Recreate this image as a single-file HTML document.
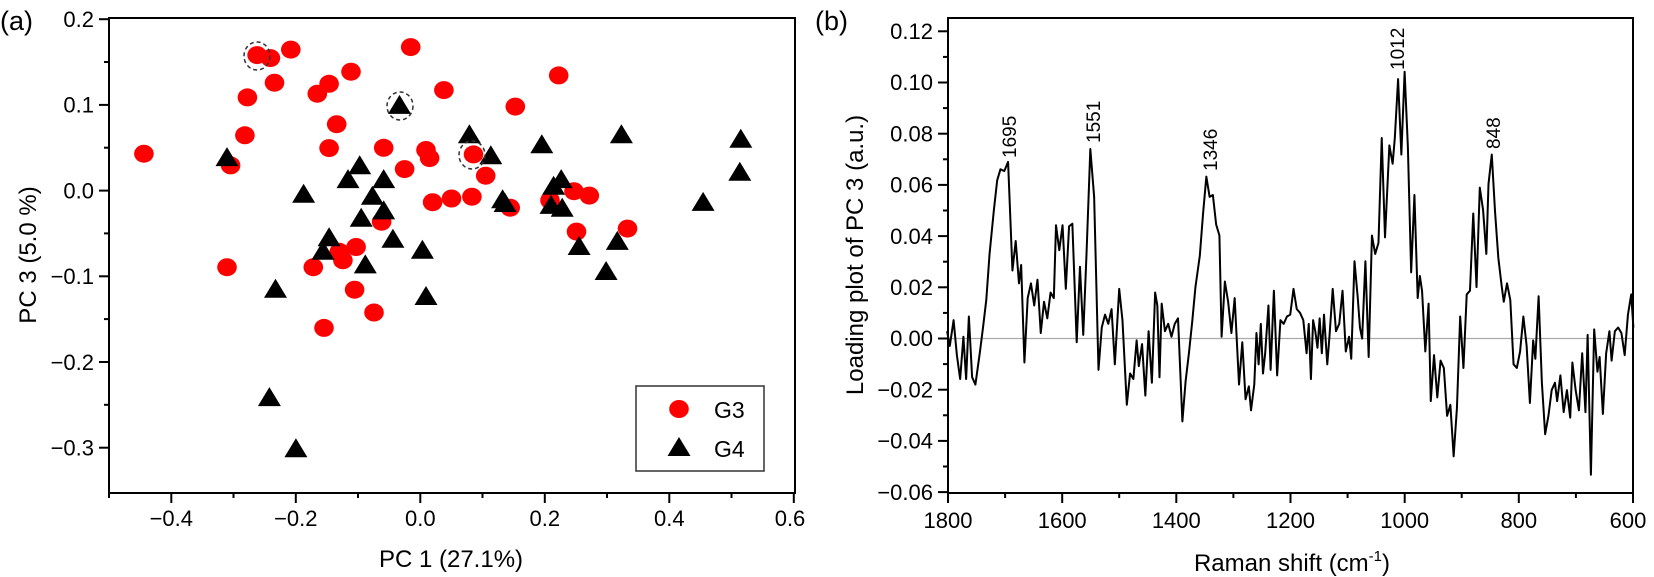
<!DOCTYPE html>
<html><head><meta charset="utf-8"><style>
html,body{margin:0;padding:0;background:#fff;}
svg{display:block;font-family:"Liberation Sans",sans-serif;}
</style></head><body>
<svg width="1654" height="577" viewBox="0 0 1654 577" xmlns="http://www.w3.org/2000/svg">
<defs>
<g id="tri"><polygon points="0,-11 11.5,8 -11.5,8" fill="#000"/></g>
<g id="cir"><ellipse cx="0" cy="0" rx="9.8" ry="9" fill="#f00"/></g>
</defs>

<!-- ===== Panel (a) ===== -->
<text x="0" y="30" font-size="27">(a)</text>
<rect x="109" y="18" width="686" height="475" fill="none" stroke="#000" stroke-width="2"/>
<g stroke="#000" stroke-width="2">
<line x1="99" y1="19.2" x2="109" y2="19.2"/>
<line x1="99" y1="104.9" x2="109" y2="104.9"/>
<line x1="99" y1="190.6" x2="109" y2="190.6"/>
<line x1="99" y1="276.3" x2="109" y2="276.3"/>
<line x1="99" y1="362" x2="109" y2="362"/>
<line x1="99" y1="447.7" x2="109" y2="447.7"/>
<line x1="104" y1="62" x2="109" y2="62"/>
<line x1="104" y1="147.7" x2="109" y2="147.7"/>
<line x1="104" y1="233.4" x2="109" y2="233.4"/>
<line x1="104" y1="319.1" x2="109" y2="319.1"/>
<line x1="104" y1="404.8" x2="109" y2="404.8"/>
<line x1="171.3" y1="493" x2="171.3" y2="503"/>
<line x1="295.8" y1="493" x2="295.8" y2="503"/>
<line x1="420.3" y1="493" x2="420.3" y2="503"/>
<line x1="544.8" y1="493" x2="544.8" y2="503"/>
<line x1="669.3" y1="493" x2="669.3" y2="503"/>
<line x1="793.8" y1="493" x2="793.8" y2="503"/>
<line x1="109" y1="493" x2="109" y2="498"/>
<line x1="233.5" y1="493" x2="233.5" y2="498"/>
<line x1="358" y1="493" x2="358" y2="498"/>
<line x1="482.5" y1="493" x2="482.5" y2="498"/>
<line x1="607" y1="493" x2="607" y2="498"/>
<line x1="731.5" y1="493" x2="731.5" y2="498"/>
</g>
<g font-size="22" text-anchor="end">
<text x="94" y="27">0.2</text>
<text x="94" y="112.7">0.1</text>
<text x="94" y="198.4">0.0</text>
<text x="94" y="284.1">−0.1</text>
<text x="94" y="369.8">−0.2</text>
<text x="94" y="455.5">−0.3</text>
</g>
<g font-size="22" text-anchor="middle">
<text x="171.3" y="526">−0.4</text>
<text x="295.8" y="526">−0.2</text>
<text x="420.3" y="526">0.0</text>
<text x="544.8" y="526">0.2</text>
<text x="669.3" y="526">0.4</text>
<text x="790" y="526">0.6</text>
</g>
<text x="451" y="567" font-size="24" text-anchor="middle">PC 1 (27.1%)</text>
<text transform="translate(36,255) rotate(-90)" font-size="24" text-anchor="middle">PC 3 (5.0 %)</text>

<g>
<use href="#cir" x="143.9" y="153.7"/><use href="#cir" x="230.6" y="165.4"/>
<use href="#cir" x="244.9" y="135.3"/><use href="#cir" x="247.4" y="97.4"/>
<use href="#cir" x="257.1" y="55.1"/><use href="#cir" x="270.4" y="58.1"/>
<use href="#cir" x="274.5" y="82.7"/><use href="#cir" x="290.8" y="49.6"/>
<use href="#cir" x="317.3" y="93.7"/><use href="#cir" x="329.1" y="83.8"/>
<use href="#cir" x="351.0" y="71.7"/><use href="#cir" x="336.7" y="124.2"/>
<use href="#cir" x="329.1" y="148.1"/><use href="#cir" x="383.7" y="147.8"/>
<use href="#cir" x="410.7" y="47.1"/><use href="#cir" x="443.9" y="90.1"/>
<use href="#cir" x="515.3" y="106.6"/><use href="#cir" x="426.0" y="150.0"/>
<use href="#cir" x="429.6" y="158.1"/><use href="#cir" x="404.6" y="169.1"/>
<use href="#cir" x="473.5" y="154.4"/><use href="#cir" x="485.7" y="175.7"/>
<use href="#cir" x="432.6" y="202.2"/><use href="#cir" x="451.5" y="198.5"/>
<use href="#cir" x="471.9" y="196.7"/><use href="#cir" x="510.2" y="207.7"/>
<use href="#cir" x="550.0" y="200.3"/><use href="#cir" x="558.7" y="75.4"/>
<use href="#cir" x="574.0" y="191.2"/><use href="#cir" x="589.3" y="195.6"/>
<use href="#cir" x="576.5" y="231.6"/><use href="#cir" x="627.5" y="228.6"/>
<use href="#cir" x="227.0" y="267.2"/><use href="#cir" x="313.3" y="267.2"/>
<use href="#cir" x="339.3" y="251.8"/><use href="#cir" x="342.9" y="260.3"/>
<use href="#cir" x="356.1" y="247.0"/><use href="#cir" x="354.6" y="289.7"/>
<use href="#cir" x="374.0" y="312.5"/><use href="#cir" x="324.0" y="327.9"/>
<use href="#cir" x="381.6" y="221.7"/>
</g>
<g>
<use href="#tri" x="227.0" y="158.1"/><use href="#tri" x="303.6" y="194.8"/>
<use href="#tri" x="348.0" y="180.1"/><use href="#tri" x="359.7" y="166.2"/>
<use href="#tri" x="383.7" y="180.1"/><use href="#tri" x="372.4" y="196.7"/>
<use href="#tri" x="383.7" y="211.4"/><use href="#tri" x="361.2" y="218.7"/>
<use href="#tri" x="329.1" y="238.2"/><use href="#tri" x="323.0" y="251.8"/>
<use href="#tri" x="392.9" y="239.7"/><use href="#tri" x="365.3" y="265.4"/>
<use href="#tri" x="422.4" y="250.7"/><use href="#tri" x="275.5" y="289.7"/>
<use href="#tri" x="426.0" y="297.0"/><use href="#tri" x="269.4" y="398.1"/>
<use href="#tri" x="295.9" y="449.2"/><use href="#tri" x="399.5" y="105.9"/>
<use href="#tri" x="469.4" y="135.3"/><use href="#tri" x="490.8" y="156.2"/>
<use href="#tri" x="541.8" y="145.2"/><use href="#tri" x="502.6" y="200.3"/>
<use href="#tri" x="505.1" y="204.0"/><use href="#tri" x="553.6" y="186.7"/>
<use href="#tri" x="561.2" y="180.1"/><use href="#tri" x="551.0" y="205.9"/>
<use href="#tri" x="562.2" y="208.8"/><use href="#tri" x="621.4" y="135.3"/>
<use href="#tri" x="579.1" y="247.0"/><use href="#tri" x="617.3" y="241.9"/>
<use href="#tri" x="606.1" y="272.0"/><use href="#tri" x="703.1" y="202.9"/>
<use href="#tri" x="740.8" y="139.7"/><use href="#tri" x="739.8" y="172.8"/>
</g>
<g fill="none" stroke="#333" stroke-width="1.5" stroke-dasharray="4,3">
<ellipse cx="257" cy="56" rx="13" ry="14"/>
<ellipse cx="400" cy="106" rx="13" ry="14"/>
<ellipse cx="472" cy="155" rx="13" ry="14"/>
</g>
<rect x="636" y="386" width="128" height="85" fill="#fff" stroke="#333" stroke-width="1.5"/>
<use href="#cir" x="679" y="409"/>
<use href="#tri" x="679" y="448"/>
<text x="714" y="418" font-size="23">G3</text>
<text x="714" y="457" font-size="23">G4</text>

<!-- ===== Panel (b) ===== -->
<text x="815" y="30" font-size="27">(b)</text>
<line x1="948" y1="338.5" x2="1633" y2="338.5" stroke="#aaa" stroke-width="1.2"/>
<polyline fill="none" stroke="#000" stroke-width="2" vector-effect="non-scaling-stroke" stroke-linejoin="round"
transform="translate(800,0) scale(0.5447,0.368)"
points="270,900 275,940 282,870 288,965 294,1030 300,915 305,1030 310,860 316,1025 322,1045 330,960 336,890 342,815 348,690 356,570 362,490 368,460 375,465 382,440 390,735 396,655 402,770 406,720 412,985 418,810 424,770 430,830 436,760 442,905 448,820 454,865 460,795 466,810 470,612 476,680 482,612 488,785 494,615 500,608 508,930 514,725 520,910 526,690 533,405 540,535 548,1005 554,890 560,855 566,880 572,840 578,990 586,785 592,870 600,1100 606,1015 612,1030 618,925 622,995 628,935 634,1075 640,900 646,1040 652,795 656,830 660,1025 664,825 670,900 676,880 682,915 688,880 694,865 702,1145 708,1035 714,960 720,875 726,780 734,695 740,580 746,480 752,535 758,530 764,610 770,640 774,915 780,765 786,820 792,905 798,810 806,1045 812,930 818,1085 824,1050 828,1115 834,1045 838,905 842,990 846,880 850,1015 854,960 860,830 864,1005 870,790 876,1020 882,870 888,880 894,860 900,855 906,785 912,840 918,850 924,870 930,960 934,880 938,1030 942,870 946,900 950,945 954,865 958,960 962,855 968,990 972,915 978,785 984,900 990,880 996,790 1002,955 1008,915 1012,975 1018,710 1024,810 1028,890 1032,920 1038,710 1044,970 1050,640 1056,690 1062,660 1068,375 1074,645 1082,395 1088,445 1092,375 1098,215 1104,420 1110,195 1116,400 1122,740 1128,530 1134,810 1138,750 1142,790 1148,955 1154,825 1158,1090 1164,965 1170,1080 1176,980 1182,1000 1188,1130 1194,1100 1200,1240 1206,1110 1212,860 1218,1000 1224,800 1230,790 1236,580 1242,780 1248,510 1254,570 1260,690 1264,500 1270,420 1276,575 1282,700 1288,775 1292,820 1298,770 1304,815 1310,990 1316,1000 1322,955 1328,860 1334,940 1340,1095 1346,925 1350,975 1356,805 1362,1040 1368,1180 1374,1130 1380,1060 1386,1040 1390,1090 1396,1020 1402,1120 1408,1060 1414,1135 1418,985 1424,1060 1430,1115 1436,960 1442,1120 1446,910 1452,1290 1458,895 1464,1010 1468,970 1474,1125 1480,960 1486,900 1490,980 1496,900 1502,890 1508,905 1514,965 1520,855 1526,800 1530,890"/>
<rect x="948" y="18" width="685" height="475" fill="none" stroke="#000" stroke-width="2"/>
<g stroke="#000" stroke-width="2">
<line x1="938" y1="31.3" x2="948" y2="31.3"/>
<line x1="938" y1="82.5" x2="948" y2="82.5"/>
<line x1="938" y1="133.7" x2="948" y2="133.7"/>
<line x1="938" y1="184.9" x2="948" y2="184.9"/>
<line x1="938" y1="236.1" x2="948" y2="236.1"/>
<line x1="938" y1="287.3" x2="948" y2="287.3"/>
<line x1="938" y1="338.5" x2="948" y2="338.5"/>
<line x1="938" y1="389.7" x2="948" y2="389.7"/>
<line x1="938" y1="440.9" x2="948" y2="440.9"/>
<line x1="938" y1="492.1" x2="948" y2="492.1"/>
<line x1="943" y1="56.9" x2="948" y2="56.9"/>
<line x1="943" y1="108.1" x2="948" y2="108.1"/>
<line x1="943" y1="159.3" x2="948" y2="159.3"/>
<line x1="943" y1="210.5" x2="948" y2="210.5"/>
<line x1="943" y1="261.7" x2="948" y2="261.7"/>
<line x1="943" y1="312.9" x2="948" y2="312.9"/>
<line x1="943" y1="364.1" x2="948" y2="364.1"/>
<line x1="943" y1="415.3" x2="948" y2="415.3"/>
<line x1="943" y1="466.5" x2="948" y2="466.5"/>
<line x1="948" y1="493" x2="948" y2="503"/>
<line x1="1062.2" y1="493" x2="1062.2" y2="503"/>
<line x1="1176.3" y1="493" x2="1176.3" y2="503"/>
<line x1="1290.5" y1="493" x2="1290.5" y2="503"/>
<line x1="1404.7" y1="493" x2="1404.7" y2="503"/>
<line x1="1518.8" y1="493" x2="1518.8" y2="503"/>
<line x1="1633" y1="493" x2="1633" y2="503"/>
<line x1="1005.1" y1="493" x2="1005.1" y2="498"/>
<line x1="1119.2" y1="493" x2="1119.2" y2="498"/>
<line x1="1233.4" y1="493" x2="1233.4" y2="498"/>
<line x1="1347.6" y1="493" x2="1347.6" y2="498"/>
<line x1="1461.7" y1="493" x2="1461.7" y2="498"/>
<line x1="1575.9" y1="493" x2="1575.9" y2="498"/>
</g>
<g font-size="22" text-anchor="end">
<text x="933" y="39">0.12</text>
<text x="933" y="90.2">0.10</text>
<text x="933" y="141.4">0.08</text>
<text x="933" y="192.6">0.06</text>
<text x="933" y="243.8">0.04</text>
<text x="933" y="295">0.02</text>
<text x="933" y="346.2">0.00</text>
<text x="933" y="397.4">−0.02</text>
<text x="933" y="448.6">−0.04</text>
<text x="933" y="499.8">−0.06</text>
</g>
<g font-size="22" text-anchor="middle">
<text x="948" y="528">1800</text>
<text x="1062.2" y="528">1600</text>
<text x="1176.3" y="528">1400</text>
<text x="1290.5" y="528">1200</text>
<text x="1404.7" y="528">1000</text>
<text x="1518.8" y="528">800</text>
<text x="1628" y="528">600</text>
</g>
<text x="1292" y="571" font-size="24" text-anchor="middle">Raman shift (cm<tspan font-size="15" dy="-10">-1</tspan><tspan dy="10">)</tspan></text>
<text transform="translate(863,255) rotate(-90)" font-size="24" text-anchor="middle">Loading plot of PC 3 (a.u.)</text>
<g font-size="19">
<text transform="translate(1016,158) rotate(-90)">1695</text>
<text transform="translate(1100,143) rotate(-90)">1551</text>
<text transform="translate(1217,171) rotate(-90)">1346</text>
<text transform="translate(1404,70) rotate(-90)">1012</text>
<text transform="translate(1500,149) rotate(-90)">848</text>
</g>
</svg>
</body></html>
